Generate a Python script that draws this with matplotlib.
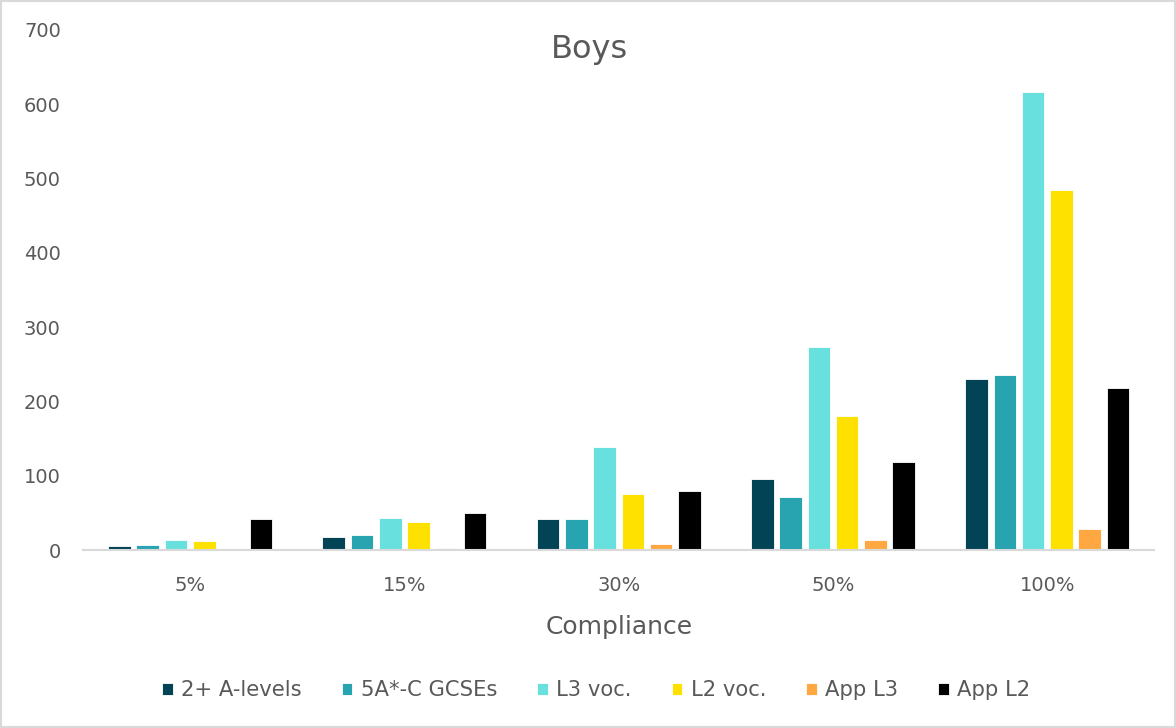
import numpy as np
import matplotlib.pyplot as plt
from matplotlib.patches import Rectangle

plt.rcParams['font.family'] = ['DejaVu Sans']

# data
categories = ['5%', '15%', '30%', '50%', '100%']
series_names = ['2+ A-levels', '5A*-C GCSEs', 'L3 voc.', 'L2 voc.', 'App L3', 'App L2']
a_levels = [6, 17, 42, 95, 230]
gcses = [7, 20, 42, 72, 236]
l3_voc = [14, 43, 138, 273, 617]
l2_voc = [12, 38, 76, 181, 485]
app_l3 = [1, 3, 8, 14, 28]
app_l2 = [42, 50, 79, 118, 218]
colors = ['#024355', '#28a3b0', '#68e0de', '#ffe100', '#ffa842', '#000000']

values = [a_levels, gcses, l3_voc, l2_voc, app_l3, app_l2]
text_col = '#595959'

fig = plt.figure(figsize=(11.76, 7.28), dpi=100)
ax = fig.add_axes([0.0706, 0.2445, 0.911, 0.7143])

x = np.arange(len(categories))
step = 0.132
width = 0.105
for i, (name, vals) in enumerate(zip(series_names, values)):
    ax.bar(x + (i - 2.5) * step, vals, width, color=colors[i], label=name,
           edgecolor='white', linewidth=0.6)

ax.set_xlim(-0.5, len(categories) - 0.5)
ax.set_ylim(0, 700)
ax.set_yticks(range(0, 701, 100))
ax.set_xticks(x)
ax.set_xticklabels(categories)
ax.tick_params(axis='both', length=0, labelsize=14, colors=text_col)
ax.tick_params(axis='y', pad=16)
ax.tick_params(axis='x', pad=19)
for s in ['top', 'right', 'left']:
    ax.spines[s].set_visible(False)
ax.spines['bottom'].set_color('#d9d9d9')
ax.spines['bottom'].set_linewidth(1.5)

ax.set_xlabel('Compliance', fontsize=18, color=text_col, labelpad=14)
fig.text(0.501, 0.9203, 'Boys', ha='center', va='baseline', fontsize=23, color=text_col)

leg = fig.legend(loc='center', bbox_to_anchor=(0.507, 0.052), ncol=6, frameon=False,
                 fontsize=15.2, handlelength=0.5, handleheight=0.5, handletextpad=0.4,
                 columnspacing=1.9)
for t in leg.get_texts():
    t.set_color(text_col)

fig.patches.append(Rectangle((0.001, 0.001), 0.998, 0.998, transform=fig.transFigure,
                             fill=False, edgecolor='#d9d9d9', linewidth=1.5))

fig.savefig('out.png', dpi=100)
